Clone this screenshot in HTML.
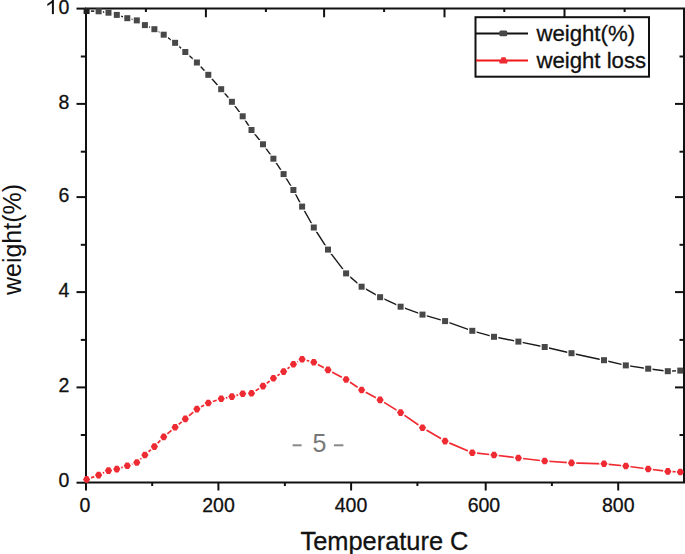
<!DOCTYPE html>
<html><head><meta charset="utf-8"><style>
html,body{margin:0;padding:0;background:#fff;width:685px;height:554px;overflow:hidden}
svg{display:block}
</style></head><body>
<svg width="685" height="554" viewBox="0 0 685 554">
<defs><mask id="mb" maskUnits="userSpaceOnUse" x="0" y="0" width="685" height="554"><rect width="685" height="554" fill="#fff"/>
<rect x="82.3" y="6.7" width="8.6" height="8.6" fill="#000"/>
<rect x="94.3" y="7.0" width="8.6" height="8.6" fill="#000"/>
<rect x="104.2" y="8.4" width="8.6" height="8.6" fill="#000"/>
<rect x="112.5" y="10.6" width="8.6" height="8.6" fill="#000"/>
<rect x="123.0" y="13.9" width="8.6" height="8.6" fill="#000"/>
<rect x="132.5" y="16.1" width="8.6" height="8.6" fill="#000"/>
<rect x="140.6" y="20.8" width="8.6" height="8.6" fill="#000"/>
<rect x="150.1" y="24.9" width="8.6" height="8.6" fill="#000"/>
<rect x="159.4" y="30.4" width="8.6" height="8.6" fill="#000"/>
<rect x="170.8" y="38.5" width="8.6" height="8.6" fill="#000"/>
<rect x="181.0" y="47.7" width="8.6" height="8.6" fill="#000"/>
<rect x="192.6" y="58.2" width="8.6" height="8.6" fill="#000"/>
<rect x="204.0" y="70.5" width="8.6" height="8.6" fill="#000"/>
<rect x="216.9" y="84.9" width="8.6" height="8.6" fill="#000"/>
<rect x="227.6" y="97.5" width="8.6" height="8.6" fill="#000"/>
<rect x="238.4" y="112.0" width="8.6" height="8.6" fill="#000"/>
<rect x="247.2" y="125.7" width="8.6" height="8.6" fill="#000"/>
<rect x="258.7" y="140.0" width="8.6" height="8.6" fill="#000"/>
<rect x="269.1" y="154.4" width="8.6" height="8.6" fill="#000"/>
<rect x="279.3" y="169.8" width="8.6" height="8.6" fill="#000"/>
<rect x="289.1" y="185.7" width="8.6" height="8.6" fill="#000"/>
<rect x="297.8" y="202.3" width="8.6" height="8.6" fill="#000"/>
<rect x="309.5" y="223.2" width="8.6" height="8.6" fill="#000"/>
<rect x="323.7" y="245.3" width="8.6" height="8.6" fill="#000"/>
<rect x="341.8" y="269.1" width="8.6" height="8.6" fill="#000"/>
<rect x="357.3" y="282.4" width="8.6" height="8.6" fill="#000"/>
<rect x="375.8" y="292.9" width="8.6" height="8.6" fill="#000"/>
<rect x="396.3" y="302.4" width="8.6" height="8.6" fill="#000"/>
<rect x="418.2" y="310.3" width="8.6" height="8.6" fill="#000"/>
<rect x="440.8" y="316.8" width="8.6" height="8.6" fill="#000"/>
<rect x="468.0" y="326.5" width="8.6" height="8.6" fill="#000"/>
<rect x="489.7" y="332.5" width="8.6" height="8.6" fill="#000"/>
<rect x="514.1" y="337.3" width="8.6" height="8.6" fill="#000"/>
<rect x="540.4" y="342.7" width="8.6" height="8.6" fill="#000"/>
<rect x="567.2" y="348.9" width="8.6" height="8.6" fill="#000"/>
<rect x="599.7" y="355.9" width="8.6" height="8.6" fill="#000"/>
<rect x="621.5" y="361.1" width="8.6" height="8.6" fill="#000"/>
<rect x="643.9" y="364.4" width="8.6" height="8.6" fill="#000"/>
<rect x="663.5" y="366.9" width="8.6" height="8.6" fill="#000"/>
<rect x="676.0" y="366.3" width="8.6" height="8.6" fill="#000"/>
</mask><mask id="mr" maskUnits="userSpaceOnUse" x="0" y="0" width="685" height="554"><rect width="685" height="554" fill="#fff"/>
<circle cx="86.6" cy="479.4" r="4.8" fill="#000"/>
<circle cx="98.6" cy="475.1" r="4.8" fill="#000"/>
<circle cx="108.5" cy="470.6" r="4.8" fill="#000"/>
<circle cx="116.8" cy="469.1" r="4.8" fill="#000"/>
<circle cx="127.3" cy="465.7" r="4.8" fill="#000"/>
<circle cx="136.8" cy="462.5" r="4.8" fill="#000"/>
<circle cx="144.9" cy="455.0" r="4.8" fill="#000"/>
<circle cx="154.4" cy="446.6" r="4.8" fill="#000"/>
<circle cx="163.7" cy="436.9" r="4.8" fill="#000"/>
<circle cx="175.1" cy="427.3" r="4.8" fill="#000"/>
<circle cx="185.3" cy="418.9" r="4.8" fill="#000"/>
<circle cx="196.9" cy="409.1" r="4.8" fill="#000"/>
<circle cx="208.3" cy="403.0" r="4.8" fill="#000"/>
<circle cx="221.2" cy="398.8" r="4.8" fill="#000"/>
<circle cx="231.9" cy="396.6" r="4.8" fill="#000"/>
<circle cx="242.7" cy="393.7" r="4.8" fill="#000"/>
<circle cx="251.5" cy="393.2" r="4.8" fill="#000"/>
<circle cx="263.0" cy="386.1" r="4.8" fill="#000"/>
<circle cx="273.4" cy="378.2" r="4.8" fill="#000"/>
<circle cx="283.6" cy="371.6" r="4.8" fill="#000"/>
<circle cx="293.4" cy="364.3" r="4.8" fill="#000"/>
<circle cx="302.1" cy="359.3" r="4.8" fill="#000"/>
<circle cx="313.8" cy="362.3" r="4.8" fill="#000"/>
<circle cx="328.0" cy="369.9" r="4.8" fill="#000"/>
<circle cx="346.1" cy="379.5" r="4.8" fill="#000"/>
<circle cx="361.6" cy="390.0" r="4.8" fill="#000"/>
<circle cx="380.1" cy="399.9" r="4.8" fill="#000"/>
<circle cx="400.6" cy="412.6" r="4.8" fill="#000"/>
<circle cx="422.5" cy="427.7" r="4.8" fill="#000"/>
<circle cx="445.1" cy="441.1" r="4.8" fill="#000"/>
<circle cx="472.3" cy="452.7" r="4.8" fill="#000"/>
<circle cx="494.0" cy="455.0" r="4.8" fill="#000"/>
<circle cx="518.4" cy="458.0" r="4.8" fill="#000"/>
<circle cx="544.7" cy="461.0" r="4.8" fill="#000"/>
<circle cx="571.5" cy="462.9" r="4.8" fill="#000"/>
<circle cx="604.0" cy="463.8" r="4.8" fill="#000"/>
<circle cx="625.8" cy="466.0" r="4.8" fill="#000"/>
<circle cx="648.2" cy="469.0" r="4.8" fill="#000"/>
<circle cx="667.8" cy="471.4" r="4.8" fill="#000"/>
<circle cx="680.3" cy="472.0" r="4.8" fill="#000"/>
</mask></defs>
<rect width="685" height="554" fill="#fff"/>
<g stroke="#111" stroke-width="2" fill="none">
<path d="M86,8.5 H684 V482.6 H86 Z"/>
<path d="M76.5,8.6 H86"/>
<path d="M76.5,103.9 H86"/>
<path d="M684,103.9 H675"/>
<path d="M76.5,197.1 H86"/>
<path d="M684,197.1 H675"/>
<path d="M76.5,292.1 H86"/>
<path d="M684,292.1 H675"/>
<path d="M76.5,387.4 H86"/>
<path d="M684,387.4 H675"/>
<path d="M76.5,482.7 H86"/>
<path d="M80.8,56.5 H86"/>
<path d="M684,56.5 H679.5"/>
<path d="M80.8,151.7 H86"/>
<path d="M684,151.7 H679.5"/>
<path d="M80.8,244.8 H86"/>
<path d="M684,244.8 H679.5"/>
<path d="M80.8,339.9 H86"/>
<path d="M684,339.9 H679.5"/>
<path d="M80.8,435.0 H86"/>
<path d="M684,435.0 H679.5"/>
<path d="M86,482.6 V490.5"/>
<path d="M218.4,482.6 V490.5"/>
<path d="M351.1,482.6 V490.5"/>
<path d="M485.7,482.6 V490.5"/>
<path d="M618.2,482.6 V490.5"/>
<path d="M152.2,482.6 V486"/>
<path d="M284.9,482.6 V486"/>
<path d="M417.4,482.6 V486"/>
<path d="M551.9,482.6 V486"/>
<path d="M205.9,8.5 V17.3"/>
<path d="M324.1,8.5 V17.3"/>
<path d="M444.5,8.5 V17.3"/>
<path d="M564.5,8.5 V17.3"/>
<path d="M145.9,8.5 V12"/>
<path d="M265.9,8.5 V12"/>
<path d="M384.1,8.5 V12"/>
<path d="M504.3,8.5 V12"/>
<path d="M624.6,8.5 V12"/>
</g>
<polyline mask="url(#mb)" points="86.6,11.0 98.6,11.3 108.5,12.7 116.8,14.9 127.3,18.2 136.8,20.4 144.9,25.1 154.4,29.2 163.7,34.7 175.1,42.8 185.3,52.0 196.9,62.5 208.3,74.8 221.2,89.2 231.9,101.8 242.7,116.3 251.5,130.0 263.0,144.3 273.4,158.7 283.6,174.1 293.4,190.0 302.1,206.6 313.8,227.5 328.0,249.6 346.1,273.4 361.6,286.7 380.1,297.2 400.6,306.7 422.5,314.6 445.1,321.1 472.3,330.8 494.0,336.8 518.4,341.6 544.7,347.0 571.5,353.2 604.0,360.2 625.8,365.4 648.2,368.7 667.8,371.2 680.3,370.6" fill="none" stroke="#1a1a1a" stroke-width="1.4" stroke-linejoin="round"/>
<polyline mask="url(#mr)" points="86.6,479.4 98.6,475.1 108.5,470.6 116.8,469.1 127.3,465.7 136.8,462.5 144.9,455.0 154.4,446.6 163.7,436.9 175.1,427.3 185.3,418.9 196.9,409.1 208.3,403.0 221.2,398.8 231.9,396.6 242.7,393.7 251.5,393.2 263.0,386.1 273.4,378.2 283.6,371.6 293.4,364.3 302.1,359.3 313.8,362.3 328.0,369.9 346.1,379.5 361.6,390.0 380.1,399.9 400.6,412.6 422.5,427.7 445.1,441.1 472.3,452.7 494.0,455.0 518.4,458.0 544.7,461.0 571.5,462.9 604.0,463.8 625.8,466.0 648.2,469.0 667.8,471.4 680.3,472.0" fill="none" stroke="#f02a30" stroke-width="1.7" stroke-linejoin="round"/>
<rect x="83.6" y="8.0" width="6.0" height="6.0" fill="#222"/>
<rect x="95.6" y="8.3" width="6.0" height="6.0" fill="#484848"/>
<rect x="105.5" y="9.7" width="6.0" height="6.0" fill="#484848"/>
<rect x="113.8" y="11.9" width="6.0" height="6.0" fill="#484848"/>
<rect x="124.3" y="15.2" width="6.0" height="6.0" fill="#484848"/>
<rect x="133.8" y="17.4" width="6.0" height="6.0" fill="#484848"/>
<rect x="141.9" y="22.1" width="6.0" height="6.0" fill="#484848"/>
<rect x="151.4" y="26.2" width="6.0" height="6.0" fill="#484848"/>
<rect x="160.7" y="31.7" width="6.0" height="6.0" fill="#484848"/>
<rect x="172.1" y="39.8" width="6.0" height="6.0" fill="#484848"/>
<rect x="182.3" y="49.0" width="6.0" height="6.0" fill="#484848"/>
<rect x="193.9" y="59.5" width="6.0" height="6.0" fill="#484848"/>
<rect x="205.3" y="71.8" width="6.0" height="6.0" fill="#484848"/>
<rect x="218.2" y="86.2" width="6.0" height="6.0" fill="#484848"/>
<rect x="228.9" y="98.8" width="6.0" height="6.0" fill="#484848"/>
<rect x="239.7" y="113.3" width="6.0" height="6.0" fill="#484848"/>
<rect x="248.5" y="127.0" width="6.0" height="6.0" fill="#484848"/>
<rect x="260.0" y="141.3" width="6.0" height="6.0" fill="#484848"/>
<rect x="270.4" y="155.7" width="6.0" height="6.0" fill="#484848"/>
<rect x="280.6" y="171.1" width="6.0" height="6.0" fill="#484848"/>
<rect x="290.4" y="187.0" width="6.0" height="6.0" fill="#484848"/>
<rect x="299.1" y="203.6" width="6.0" height="6.0" fill="#484848"/>
<rect x="310.8" y="224.5" width="6.0" height="6.0" fill="#484848"/>
<rect x="325.0" y="246.6" width="6.0" height="6.0" fill="#484848"/>
<rect x="343.1" y="270.4" width="6.0" height="6.0" fill="#484848"/>
<rect x="358.6" y="283.7" width="6.0" height="6.0" fill="#484848"/>
<rect x="377.1" y="294.2" width="6.0" height="6.0" fill="#484848"/>
<rect x="397.6" y="303.7" width="6.0" height="6.0" fill="#484848"/>
<rect x="419.5" y="311.6" width="6.0" height="6.0" fill="#484848"/>
<rect x="442.1" y="318.1" width="6.0" height="6.0" fill="#484848"/>
<rect x="469.3" y="327.8" width="6.0" height="6.0" fill="#484848"/>
<rect x="491.0" y="333.8" width="6.0" height="6.0" fill="#484848"/>
<rect x="515.4" y="338.6" width="6.0" height="6.0" fill="#484848"/>
<rect x="541.7" y="344.0" width="6.0" height="6.0" fill="#484848"/>
<rect x="568.5" y="350.2" width="6.0" height="6.0" fill="#484848"/>
<rect x="601.0" y="357.2" width="6.0" height="6.0" fill="#484848"/>
<rect x="622.8" y="362.4" width="6.0" height="6.0" fill="#484848"/>
<rect x="645.2" y="365.7" width="6.0" height="6.0" fill="#484848"/>
<rect x="664.8" y="368.2" width="6.0" height="6.0" fill="#484848"/>
<rect x="677.3" y="367.6" width="6.0" height="6.0" fill="#484848"/>
<polygon points="83.00,479.40 85.00,476.10 88.20,476.10 90.20,479.40 88.20,482.70 85.00,482.70" fill="#ee2a33"/>
<polygon points="95.00,475.10 97.00,471.80 100.20,471.80 102.20,475.10 100.20,478.40 97.00,478.40" fill="#ee2a33"/>
<polygon points="104.90,470.60 106.90,467.30 110.10,467.30 112.10,470.60 110.10,473.90 106.90,473.90" fill="#ee2a33"/>
<polygon points="113.20,469.10 115.20,465.80 118.40,465.80 120.40,469.10 118.40,472.40 115.20,472.40" fill="#ee2a33"/>
<polygon points="123.70,465.70 125.70,462.40 128.90,462.40 130.90,465.70 128.90,469.00 125.70,469.00" fill="#ee2a33"/>
<polygon points="133.20,462.50 135.20,459.20 138.40,459.20 140.40,462.50 138.40,465.80 135.20,465.80" fill="#ee2a33"/>
<polygon points="141.30,455.00 143.30,451.70 146.50,451.70 148.50,455.00 146.50,458.30 143.30,458.30" fill="#ee2a33"/>
<polygon points="150.80,446.60 152.80,443.30 156.00,443.30 158.00,446.60 156.00,449.90 152.80,449.90" fill="#ee2a33"/>
<polygon points="160.10,436.90 162.10,433.60 165.30,433.60 167.30,436.90 165.30,440.20 162.10,440.20" fill="#ee2a33"/>
<polygon points="171.50,427.30 173.50,424.00 176.70,424.00 178.70,427.30 176.70,430.60 173.50,430.60" fill="#ee2a33"/>
<polygon points="181.70,418.90 183.70,415.60 186.90,415.60 188.90,418.90 186.90,422.20 183.70,422.20" fill="#ee2a33"/>
<polygon points="193.30,409.10 195.30,405.80 198.50,405.80 200.50,409.10 198.50,412.40 195.30,412.40" fill="#ee2a33"/>
<polygon points="204.70,403.00 206.70,399.70 209.90,399.70 211.90,403.00 209.90,406.30 206.70,406.30" fill="#ee2a33"/>
<polygon points="217.60,398.80 219.60,395.50 222.80,395.50 224.80,398.80 222.80,402.10 219.60,402.10" fill="#ee2a33"/>
<polygon points="228.30,396.60 230.30,393.30 233.50,393.30 235.50,396.60 233.50,399.90 230.30,399.90" fill="#ee2a33"/>
<polygon points="239.10,393.70 241.10,390.40 244.30,390.40 246.30,393.70 244.30,397.00 241.10,397.00" fill="#ee2a33"/>
<polygon points="247.90,393.20 249.90,389.90 253.10,389.90 255.10,393.20 253.10,396.50 249.90,396.50" fill="#ee2a33"/>
<polygon points="259.40,386.10 261.40,382.80 264.60,382.80 266.60,386.10 264.60,389.40 261.40,389.40" fill="#ee2a33"/>
<polygon points="269.80,378.20 271.80,374.90 275.00,374.90 277.00,378.20 275.00,381.50 271.80,381.50" fill="#ee2a33"/>
<polygon points="280.00,371.60 282.00,368.30 285.20,368.30 287.20,371.60 285.20,374.90 282.00,374.90" fill="#ee2a33"/>
<polygon points="289.80,364.30 291.80,361.00 295.00,361.00 297.00,364.30 295.00,367.60 291.80,367.60" fill="#ee2a33"/>
<polygon points="298.50,359.30 300.50,356.00 303.70,356.00 305.70,359.30 303.70,362.60 300.50,362.60" fill="#ee2a33"/>
<polygon points="310.20,362.30 312.20,359.00 315.40,359.00 317.40,362.30 315.40,365.60 312.20,365.60" fill="#ee2a33"/>
<polygon points="324.40,369.90 326.40,366.60 329.60,366.60 331.60,369.90 329.60,373.20 326.40,373.20" fill="#ee2a33"/>
<polygon points="342.50,379.50 344.50,376.20 347.70,376.20 349.70,379.50 347.70,382.80 344.50,382.80" fill="#ee2a33"/>
<polygon points="358.00,390.00 360.00,386.70 363.20,386.70 365.20,390.00 363.20,393.30 360.00,393.30" fill="#ee2a33"/>
<polygon points="376.50,399.90 378.50,396.60 381.70,396.60 383.70,399.90 381.70,403.20 378.50,403.20" fill="#ee2a33"/>
<polygon points="397.00,412.60 399.00,409.30 402.20,409.30 404.20,412.60 402.20,415.90 399.00,415.90" fill="#ee2a33"/>
<polygon points="418.90,427.70 420.90,424.40 424.10,424.40 426.10,427.70 424.10,431.00 420.90,431.00" fill="#ee2a33"/>
<polygon points="441.50,441.10 443.50,437.80 446.70,437.80 448.70,441.10 446.70,444.40 443.50,444.40" fill="#ee2a33"/>
<polygon points="468.70,452.70 470.70,449.40 473.90,449.40 475.90,452.70 473.90,456.00 470.70,456.00" fill="#ee2a33"/>
<polygon points="490.40,455.00 492.40,451.70 495.60,451.70 497.60,455.00 495.60,458.30 492.40,458.30" fill="#ee2a33"/>
<polygon points="514.80,458.00 516.80,454.70 520.00,454.70 522.00,458.00 520.00,461.30 516.80,461.30" fill="#ee2a33"/>
<polygon points="541.10,461.00 543.10,457.70 546.30,457.70 548.30,461.00 546.30,464.30 543.10,464.30" fill="#ee2a33"/>
<polygon points="567.90,462.90 569.90,459.60 573.10,459.60 575.10,462.90 573.10,466.20 569.90,466.20" fill="#ee2a33"/>
<polygon points="600.40,463.80 602.40,460.50 605.60,460.50 607.60,463.80 605.60,467.10 602.40,467.10" fill="#ee2a33"/>
<polygon points="622.20,466.00 624.20,462.70 627.40,462.70 629.40,466.00 627.40,469.30 624.20,469.30" fill="#ee2a33"/>
<polygon points="644.60,469.00 646.60,465.70 649.80,465.70 651.80,469.00 649.80,472.30 646.60,472.30" fill="#ee2a33"/>
<polygon points="664.20,471.40 666.20,468.10 669.40,468.10 671.40,471.40 669.40,474.70 666.20,474.70" fill="#ee2a33"/>
<polygon points="676.70,472.00 678.70,468.70 681.90,468.70 683.90,472.00 681.90,475.30 678.70,475.30" fill="#ee2a33"/>
<rect x="475.5" y="17.2" width="173.5" height="59.5" fill="#fff" stroke="#111" stroke-width="2"/>
<path d="M476,33.4 H528" stroke="#111" stroke-width="2"/>
<rect x="499.3" y="30.6" width="8" height="5.6" rx="1.5" fill="#484848"/>
<path d="M476,60.5 H528" stroke="#f01818" stroke-width="2.2"/>
<polygon points="501.6,57.2 505.4,57.2 506.2,59.2 507.6,61.2 507.2,63.6 499.6,63.6 499.2,61.2 500.8,59.2" fill="#ee2a33"/>
<text x="536.4" y="41.3" font-family='"Liberation Sans", sans-serif' font-size="22.2" fill="#111" stroke="#111" stroke-width="0.3">weight(%)</text>
<text x="536.4" y="67.7" font-family='"Liberation Sans", sans-serif' font-size="22.2" fill="#111" stroke="#111" stroke-width="0.3">weight loss</text>
<text x="69.3" y="14.1" text-anchor="end" font-family='"Liberation Sans", sans-serif' font-size="19.5" fill="#111" stroke="#111" stroke-width="0.3">0</text>
<text x="69.3" y="108.6" text-anchor="end" font-family='"Liberation Sans", sans-serif' font-size="19.5" fill="#111" stroke="#111" stroke-width="0.3">8</text>
<text x="69.3" y="201.8" text-anchor="end" font-family='"Liberation Sans", sans-serif' font-size="19.5" fill="#111" stroke="#111" stroke-width="0.3">6</text>
<text x="69.3" y="296.8" text-anchor="end" font-family='"Liberation Sans", sans-serif' font-size="19.5" fill="#111" stroke="#111" stroke-width="0.3">4</text>
<text x="69.3" y="392.1" text-anchor="end" font-family='"Liberation Sans", sans-serif' font-size="19.5" fill="#111" stroke="#111" stroke-width="0.3">2</text>
<text x="69.3" y="487.4" text-anchor="end" font-family='"Liberation Sans", sans-serif' font-size="19.5" fill="#111" stroke="#111" stroke-width="0.3">0</text>
<path d="M51.9,14.1 V-0.5 H53.9 V14.1 Z" fill="#111"/>
<path d="M52.2,0.6 L47.3,3.9 L47.3,5.9 L53.2,2.2 Z" fill="#111"/>
<text x="85" y="511.9" text-anchor="middle" font-family='"Liberation Sans", sans-serif' font-size="19.5" fill="#111" stroke="#111" stroke-width="0.3">0</text>
<text x="218.5" y="511.9" text-anchor="middle" font-family='"Liberation Sans", sans-serif' font-size="19.5" fill="#111" stroke="#111" stroke-width="0.3">200</text>
<text x="351" y="511.9" text-anchor="middle" font-family='"Liberation Sans", sans-serif' font-size="19.5" fill="#111" stroke="#111" stroke-width="0.3">400</text>
<text x="483.9" y="511.9" text-anchor="middle" font-family='"Liberation Sans", sans-serif' font-size="19.5" fill="#111" stroke="#111" stroke-width="0.3">600</text>
<text x="618.3" y="511.9" text-anchor="middle" font-family='"Liberation Sans", sans-serif' font-size="19.5" fill="#111" stroke="#111" stroke-width="0.3">800</text>
<text x="384.5" y="549.6" text-anchor="middle" font-family='"Liberation Sans", sans-serif' font-size="25.4" fill="#111" stroke="#111" stroke-width="0.3">Temperature C</text>
<text transform="translate(20.5,239.5) rotate(-90)" text-anchor="middle" font-family='"Liberation Sans", sans-serif' font-size="25" fill="#111">weight(%)</text>
<text x="319.5" y="452" text-anchor="middle" font-family='"Liberation Sans", sans-serif' font-size="25" fill="#787878">5</text>
<rect x="292.6" y="444.3" width="9" height="2" fill="#888"/>
<rect x="333.9" y="444.3" width="9.5" height="2" fill="#888"/>
</svg>
</body></html>
